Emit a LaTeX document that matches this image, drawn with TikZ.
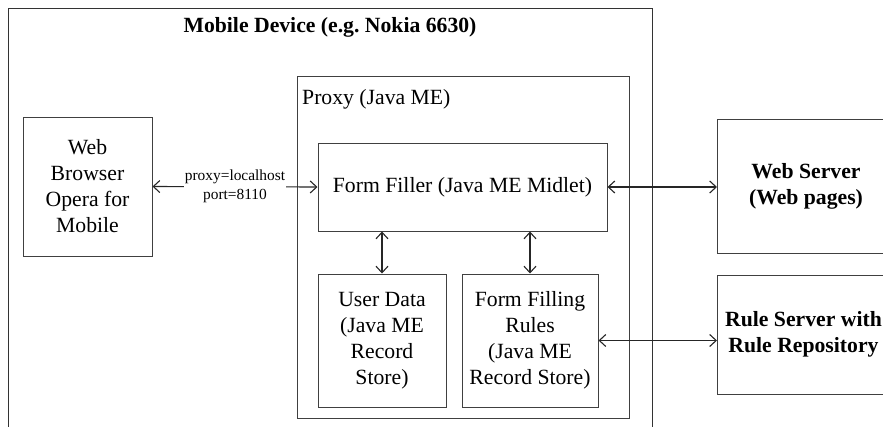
\documentclass[tikz,border=0pt]{standalone}
\usepackage{fontspec}
\setmainfont{Liberation Serif}
\usetikzlibrary{arrows.meta}
\frenchspacing
\begin{document}
\begin{tikzpicture}[x=1pt,y=-1pt,
  box/.style={draw=black!75,line width=1pt,inner sep=0pt},
  boxtext/.style={align=center,font=\fontsize{21.7}{26}\selectfont,inner sep=0pt},
  boldtext/.style={align=center,font=\fontsize{21.7}{26}\selectfont\bfseries,inner sep=0pt},
  link/.style={draw=black!85,line width=1.1pt,{Straight Barb[length=6.5pt,width=12pt]}-{Straight Barb[length=6.5pt,width=12pt]}}]
\useasboundingbox (0,0) rectangle (883,426);
\clip (0,0) rectangle (883,426);
% outer device frame (runs past the lower edge)
\draw[black!80,line width=1pt] (8,440) -- (8,8) -- (652,8) -- (652,440);
\node[boldtext,anchor=base] (title) at (330,32) {Mobile Device (e.g. Nokia 6630)};
% proxy frame
\node[box,minimum width=332pt,minimum height=342pt,anchor=north west] (proxy) at (297,76) {};
\node[boxtext,anchor=base west] (proxylbl) at (302,104) {Proxy (Java ME)};
% components
\node[box,minimum width=129pt,minimum height=139pt] (browser) at (87.5,186.5) {};
\node[boxtext] at (browser.center) {Web\\Browser\\Opera for\\Mobile};
\node[box,minimum width=289pt,minimum height=88pt] (filler) at (462.5,187) {};
\node[boxtext] at (filler.center) {Form Filler (Java ME Midlet)};
\node[box,minimum width=128pt,minimum height=133pt] (userdata) at (382,340.5) {};
\node[boxtext] at (userdata.center) {User Data\\(Java ME\\Record\\Store)};
\node[box,minimum width=136pt,minimum height=133pt] (rules) at (530,340.5) {};
\node[boxtext] at (rules.center) {Form Filling\\Rules\\(Java ME\\Record Store)};
\node[box,minimum width=180pt,minimum height=134pt,anchor=north west] (web) at (717,119) {};
\node[boldtext] at (806,186) {Web Server\\(Web pages)};
\node[box,minimum width=180pt,minimum height=119pt,anchor=north west] (ruleserver) at (717,275) {};
\node[boldtext] at (803.5,334.5) {Rule Server with\\Rule Repository};
% connectors
\draw[link] (browser.east) -- node[fill=white,inner sep=1pt,align=center,font=\fontsize{15.4}{19}\selectfont] (proxyport) {proxy=localhost\\port=8110} (filler.west);
\draw[link] (filler.east) -- (filler.east -| web.west);
\draw[link] (rules.east) -- (rules.east -| ruleserver.west);
\draw[link] (filler.south -| userdata.north) -- (userdata.north);
\draw[link] (filler.south -| rules.north) -- (rules.north);
\end{tikzpicture}
\end{document}
